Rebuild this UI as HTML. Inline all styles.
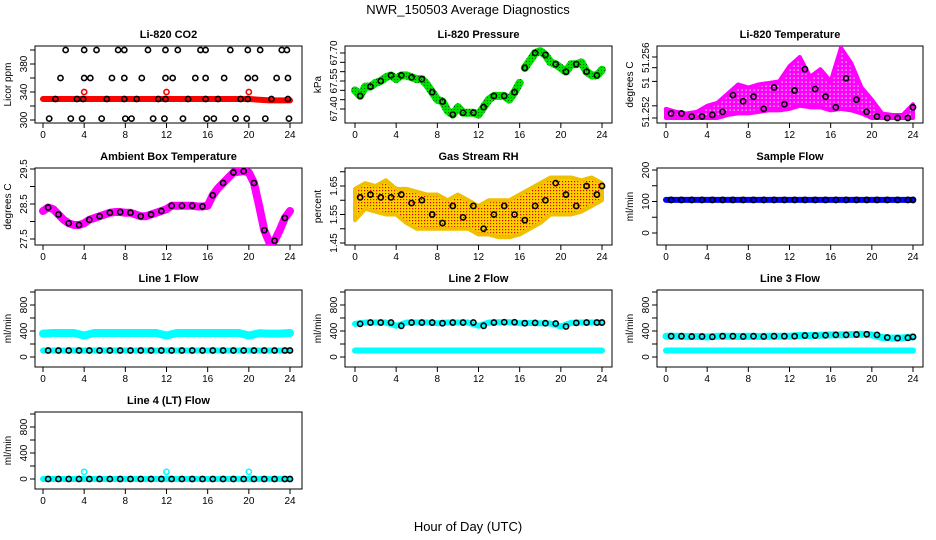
<!DOCTYPE html>
<html><head><meta charset="utf-8"><style>
body{margin:0;background:#fff}
svg{display:block;font-family:"Liberation Sans",sans-serif}
</style></head><body>
<svg id="c" width="936" height="540" viewBox="0 0 936 540">
<defs>
<pattern id="rhPat" width="3" height="3" patternUnits="userSpaceOnUse"><rect width="3" height="3" fill="#ffd000"/><rect x="1" y="1" width="1.2" height="1.2" fill="#e00000"/></pattern>
<pattern id="tmPat" width="4" height="4" patternUnits="userSpaceOnUse"><rect width="4" height="4" fill="#f0f"/><rect x="1.5" y="1.5" width="1.2" height="1.2" fill="#fff"/></pattern>
<pattern id="prPat" width="3" height="3" patternUnits="userSpaceOnUse"><rect width="3" height="3" fill="#00e000"/><rect x="1" y="1" width="1" height="1" fill="#006000"/></pattern>
</defs>
<text x="468" y="14" text-anchor="middle" font-size="13">NWR_150503  Average Diagnostics</text>
<text x="468" y="531" text-anchor="middle" font-size="13">Hour of Day (UTC)</text>
</svg>
<script>
// ---- data ----
const hours = [0,1,2,3,4,5,6,7,8,9,10,11,12,13,14,15,16,17,18,19,20,21,22,23,24];
const halfHours = [0,0.5,1,1.5,2,2.5,3,3.5,4,4.5,5,5.5,6,6.5,7,7.5,8,8.5,9,9.5,10,10.5,11,11.5,12,12.5,13,13.5,14,14.5,15,15.5,16,16.5,17,17.5,18,18.5,19,19.5,20,20.5,21,21.5,22,22.5,23,23.5,24];
const co2Band = [330,330,330,330,330,330,330,330,330,330,330,330,330,330,330,330,330,330,330,330,330,329,328,328,328];
const co2T400 = [2.2,4.0,5.2,7.3,7.9,10.2,11.9,13.1,15.3,15.8,18.2,19.9,21.1,23.2,23.7];
const co2T360 = [1.7,4.0,4.6,6.7,7.9,9.6,11.9,12.6,14.8,15.8,17.6,19.9,20.6,22.7,23.8];
const co2T330 = [1.2,3.3,3.9,6.2,7.9,9.1,11.2,11.9,14.1,15.8,17.0,19.2,19.9,22.2,23.8];
const co2T300 = [0.6,2.7,3.8,5.7,8.0,8.6,10.7,11.8,13.6,15.9,16.6,18.7,19.8,21.6,23.9];
const co2OutT = [4,12,20];
const co2OutV = [340,340,340];
const pressure = [67.5,67.47,67.52,67.52,67.54,67.55,67.57,67.58,67.56,67.58,67.58,67.57,67.56,67.56,67.53,67.49,67.45,67.44,67.39,67.37,67.41,67.38,67.38,67.38,67.37,67.41,67.45,67.47,67.47,67.47,67.45,67.49,67.54,67.62,67.66,67.7,67.71,67.69,67.65,67.64,67.62,67.6,67.64,67.64,67.65,67.6,67.58,67.58,67.61];
const tempLo = [0,0,0,0,0,0,.2,.3,.3,.4,.5,.5,.6,.8,.7,.7,.5,.6,.5,.3,0,0,0,0,0];
const tempHi = [.6,.4,.3,.4,.8,1.0,1.6,2.2,2.0,2.2,2.3,2.4,3.4,4.0,2.7,3.2,2.4,4.6,3.6,2.0,1.2,.3,.2,.2,.9];
const tempBlack = [.3,.3,.1,.1,.2,.4,1.5,1.1,1.4,.6,2.0,.9,1.8,3.2,1.9,1.4,.7,2.6,1.2,.4,.1,0,0,0,.7];
const ambient = [28.3,28.4,28.35,28.2,28.05,27.95,27.9,27.9,27.95,28.05,28.1,28.15,28.2,28.25,28.27,28.27,28.25,28.25,28.2,28.15,28.15,28.2,28.25,28.3,28.35,28.45,28.45,28.45,28.45,28.45,28.43,28.43,28.45,28.75,28.95,29.1,29.25,29.4,29.42,29.44,29.4,29.1,28.45,27.75,27.4,27.45,27.75,28.1,28.3];
const rhLo = [1.53,1.57,1.56,1.55,1.55,1.52,1.5,1.5,1.5,1.5,1.5,1.5,1.48,1.48,1.47,1.47,1.48,1.5,1.52,1.55,1.55,1.55,1.56,1.58,1.6];
const rhHi = [1.64,1.66,1.65,1.67,1.64,1.64,1.63,1.62,1.62,1.6,1.62,1.6,1.58,1.6,1.6,1.6,1.62,1.64,1.66,1.68,1.68,1.68,1.67,1.68,1.66];
const rhBlack = [1.61,1.62,1.61,1.61,1.62,1.59,1.6,1.55,1.52,1.58,1.54,1.58,1.5,1.55,1.58,1.55,1.53,1.58,1.6,1.66,1.62,1.58,1.65,1.62,1.65];
const sampleFlow = [105,105,105,105,105,105,105,105,105,105,105,105,105,105,105,105,105,105,105,105,105,105,105,105,105];
const line1Hi = [360,370,370,370,330,370,370,370,370,370,370,370,330,370,370,370,370,370,370,370,330,365,360,360,370];
const line1Lo = [100,100,100,100,100,100,100,100,100,100,100,100,100,100,100,100,100,100,100,100,100,100,100,100,100];
const line2Hi = [510,530,530,530,480,530,530,530,520,530,530,530,480,530,535,535,520,525,520,515,470,525,530,530,530];
const line2Lo = [100,100,100,100,100,100,100,100,100,100,100,100,100,100,100,100,100,100,100,100,100,100,100,100,100];
const line3Hi = [320,320,315,315,310,320,320,315,320,315,320,320,320,330,330,335,340,340,345,350,340,300,290,295,310];
const line3Lo = [100,100,100,100,100,100,100,100,100,100,100,100,100,100,100,100,100,100,100,100,100,100,100,100,100];
const line4Vals = [0,0,0,0,0,0,0,0,0,0,0,0,0,0,0,0,0,0,0,0,0,0,0,0,0];
const line4OutT = [4,12,20];
const line4OutV = [110,110,110];
const xTicks = [0,4,8,12,16,20,24];

// ---- drawing ----
const svg = document.getElementById('c');
const NS = 'http://www.w3.org/2000/svg';
const cols = [[35,302,43],[345,612,355],[657,923,666]];
const rows = [[46,123],[168,245],[290,367],[412,489]];
function mk(tag, attrs, parent){
  const e = document.createElementNS(NS, tag);
  for (const k in attrs) e.setAttribute(k, attrs[k]);
  (parent||svg).appendChild(e);
  return e;
}
function panel(name, title, ylab, c, r, v1, y1, v2, y2, ticks, labels){
  const [fl, fr, x0] = cols[c]; const [ft, fb] = rows[r];
  const g = mk('g', {});
  
  
  const sx = t => x0 + t * 247 / 24;
  const sy = v => y1 + (v - v1) * (y2 - y1) / (v2 - v1);
  const fr_ = mk('rect', {x:fl, y:ft, width:fr-fl, height:fb-ft, fill:'none', stroke:'#000', 'stroke-width':1}, g);
  
  
  const tt = mk('text', {x:(fl+fr)/2, y:ft-8, 'text-anchor':'middle', 'font-size':11, 'font-weight':'bold'}, g);
  tt.textContent = title;
  
  
  const yl = mk('text', {transform:`translate(${fl-24},${(ft+fb)/2}) rotate(-90)`, 'text-anchor':'middle', 'font-size':10}, g);
  yl.textContent = ylab;
  
  
  xTicks.forEach(t => {
    mk('line', {x1:sx(t), x2:sx(t), y1:fb, y2:fb+5, stroke:'#000'}, g);
    const l = mk('text', {x:sx(t), y:fb+15, 'text-anchor':'middle', 'font-size':10}, g);
    l.textContent = t;
    
    
  });
  ticks.forEach(v => mk('line', {x1:fl, x2:fl-5, y1:sy(v), y2:sy(v), stroke:'#000'}, g));
  labels.forEach(([v, s]) => {
    const l = mk('text', {transform:`translate(${fl-8},${sy(v)}) rotate(-90)`, 'text-anchor':'middle', 'font-size':10}, g);
    l.textContent = s;
    
    
  });
  const clip = 'cp' + name;
  const cp = mk('clipPath', {id:clip}, g);
  mk('rect', {x:fl, y:ft, width:fr-fl, height:fb-ft}, cp);
  const pg = mk('g', {'clip-path':`url(#${clip})`}, g);
  return {sx, sy, g:pg};
}
function band(p, ts, vs, color, w, nm){
  const d = ts.map((t,i)=>(i?'L':'M')+p.sx(t)+','+p.sy(vs[i])).join('');
  const e = mk('path', {d, fill:'none', stroke:color, 'stroke-width':w, 'stroke-linejoin':'round', 'stroke-linecap':'round'}, p.g);
  
  
}
function pts(p, ts, vs, color, nm, rad){
  ts.forEach((t,i)=>{
    const e = mk('circle', {cx:p.sx(t), cy:p.sy(vs[i]), r:rad||2.6, fill:'none', stroke:color, 'stroke-width':1.6}, p.g);
    
    
  });
}
function cloud(p, lo, hi, fill, color, nm){
  const up = hours.map((t,i)=>p.sx(t)+','+p.sy(hi[i]));
  const dn = hours.map((t,i)=>p.sx(t)+','+p.sy(lo[i])).reverse();
  const e = mk('polygon', {points:up.concat(dn).join(' '), fill:fill, stroke:color, 'stroke-width':4, 'stroke-linejoin':'round'}, p.g);
  
  
}
const off = hours.map(h=>Math.min(24,h+0.5));
const odd = halfHours.filter((_,i)=>i%2==1);

// CO2
let p = panel('co2','Li-820 CO2','Licor ppm',0,0,300,120,380,64,[300,320,340,360,380,400],[[300,'300'],[340,'340'],[380,'380']]);
band(p, hours, co2Band, '#f00', 6, 'co2-band');
pts(p, co2OutT, co2OutV, '#f00', 'co2-outlier');
pts(p, co2T400, co2T400.map(()=>400), '#000', 'co2-point');
pts(p, co2T360, co2T360.map(()=>360), '#000', 'co2-point');
pts(p, co2T330, co2T330.map(()=>330), '#000', 'co2-point');
pts(p, co2T300, co2T300.map(()=>302), '#000', 'co2-point');

// Pressure
p = panel('pressure','Li-820 Pressure','kPa',1,0,67.40,109,67.70,53,[67.40,67.45,67.5,67.55,67.6,67.65,67.70],[[67.40,'67.40'],[67.55,'67.55'],[67.70,'67.70']]);
band(p, halfHours.slice(0,33), pressure.slice(0,33), 'url(#prPat)', 8, 'pressure-band');
band(p, halfHours.slice(33), pressure.slice(33), 'url(#prPat)', 8, 'pressure-band');
pts(p, halfHours.filter((_,i)=>i%2==1), pressure.filter((_,i)=>i%2==1), '#000', 'pressure-point');

// Li temp
p = panel('litemp','Li-820 Temperature','degrees C',2,0,0,118,4,57,[0,0.8,2.4,3.3,4],[[0.4,'51.252'],[2.3,'51'],[3.95,'51.256']]);
cloud(p, tempLo, tempHi, 'url(#tmPat)', '#f0f', 'litemp-cloud');
pts(p, off, tempBlack, '#000', 'litemp-point');

// Ambient
p = panel('ambient','Ambient Box Temperature','degrees C',0,1,27.5,239,29.5,169,[27.5,28,28.5,29,29.5],[[27.5,'27.5'],[28.5,'28.5'],[29.5,'29.5']]);
band(p, halfHours, ambient, '#f0f', 8, 'ambient-band');
pts(p, odd, ambient.filter((_,i)=>i%2==1), '#000', 'ambient-point');

// RH
p = panel('rh','Gas Stream RH','percent',1,1,1.45,243,1.65,186,[1.45,1.5,1.55,1.6,1.65,1.7],[[1.45,'1.45'],[1.55,'1.55'],[1.65,'1.65']]);
cloud(p, rhLo, rhHi, 'url(#rhPat)', '#f0c000', 'rh-cloud');
pts(p, off, rhBlack, '#000', 'rh-point');

// Sample flow
p = panel('sample','Sample Flow','ml/min',2,1,0,233,200,170,[0,50,100,150,200],[[0,'0'],[100,'100'],[200,'200']]);
band(p, hours, sampleFlow, '#0000ff', 6, 'sample-band');
pts(p, off, sampleFlow, '#000', 'sample-point');

const flowTicks = [0,200,400,600,800,1000], flowLabels = [[0,'0'],[400,'400'],[800,'800']];
p = panel('line1','Line 1 Flow','ml/min',0,2,0,357,800,305,flowTicks,flowLabels);
band(p, hours, line1Hi, '#00ffff', 8, 'line1-high-band');
band(p, hours, line1Lo, '#00ffff', 6, 'line1-low-band');
pts(p, off, line1Lo, '#000', 'line1-point');

p = panel('line2','Line 2 Flow','ml/min',1,2,0,357,800,305,flowTicks,flowLabels);
band(p, hours, line2Hi, '#00ffff', 6, 'line2-high-band');
band(p, hours, line2Lo, '#00ffff', 6, 'line2-low-band');
pts(p, off, line2Hi, '#000', 'line2-point');

p = panel('line3','Line 3 Flow','ml/min',2,2,0,357,800,305,flowTicks,flowLabels);
band(p, hours, line3Hi, '#00ffff', 7, 'line3-high-band');
band(p, hours, line3Lo, '#00ffff', 6, 'line3-low-band');
pts(p, off, line3Hi, '#000', 'line3-point');

p = panel('line4','Line 4 (LT) Flow','ml/min',0,3,0,479,800,427,flowTicks,flowLabels);
band(p, hours, line4Vals, '#00ffff', 6, 'line4-band');
pts(p, line4OutT, line4OutV, '#00ffff', 'line4-outlier');
pts(p, off, line4Vals, '#000', 'line4-point');
</script>
</body></html>
